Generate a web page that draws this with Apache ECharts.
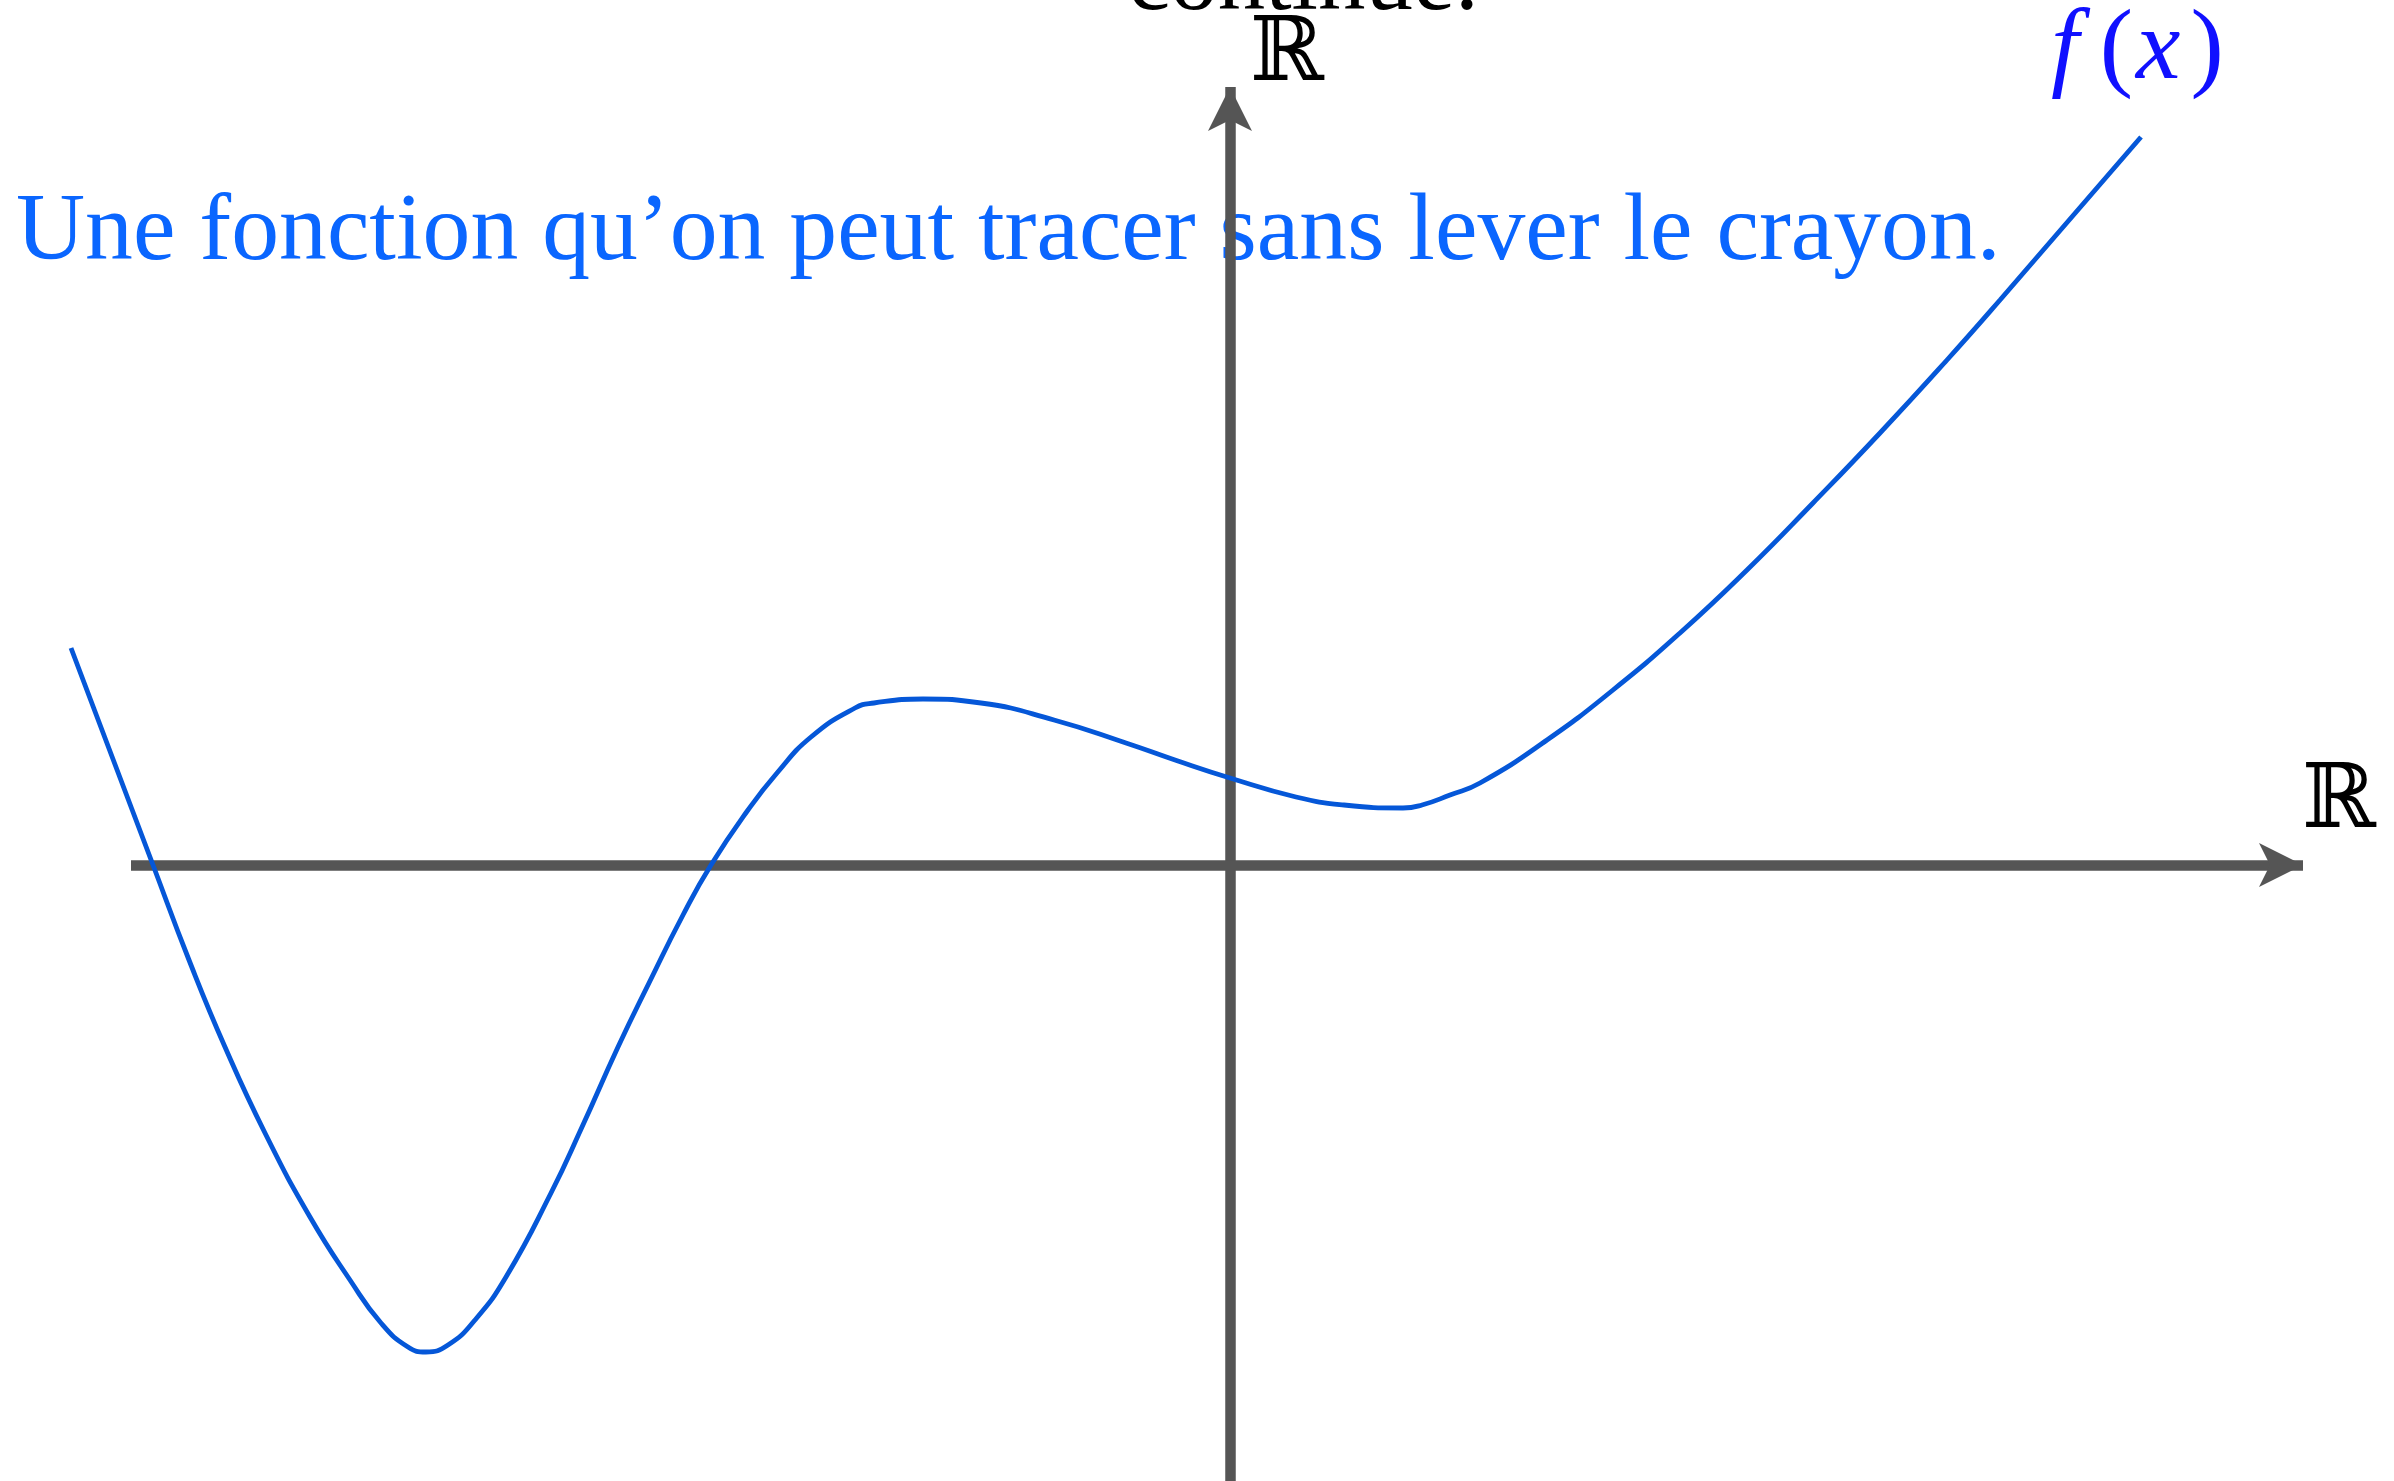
<!DOCTYPE html>
<html>
<head>
<meta charset="utf-8">
<title>Fonction continue</title>
<script src="https://cdn.jsdelivr.net/npm/echarts@6/dist/echarts.min.js"></script>
<style>
  html, body { margin: 0; padding: 0; background: #ffffff; }
  #chart { width: 2394px; height: 1481px; }
</style>
</head>
<body>
<div id="chart"></div>
<script>
// Sample points of the continuous function f (x, f(x))
const curveX = [-11.59, -10.77, -10.41, -10.05, -9.65, -9.20, -8.80, -8.49, -8.22, -8.04,
                -7.82, -7.55, -7.24, -6.79, -6.48, -6.12, -5.81, -5.47, -5.19, -4.82,
                -4.53, -4.19, -3.75, -3.56, -3.07, -2.49, -1.76, -1.04, -0.55, 0.00,
                0.66, 1.14, 1.73, 1.92, 2.20, 2.50, 3.17, 3.83, 4.50, 5.17,
                5.83, 6.50, 7.17, 7.70, 9.11];
const curveY = [2.17, 0.00, -0.95, -1.82, -2.68, -3.52, -4.15, -4.58, -4.82, -4.87,
                -4.80, -4.55, -4.12, -3.28, -2.62, -1.82, -1.18, -0.50, 0.00, 0.55,
                0.92, 1.28, 1.57, 1.62, 1.66, 1.62, 1.45, 1.22, 1.05, 0.87,
                0.68, 0.60, 0.57, 0.60, 0.70, 0.82, 1.25, 1.75, 2.32, 2.95,
                3.62, 4.32, 5.05, 5.65, 7.28];

// Window of the real plane: the drawn axes start at x = -10.99,
// the curve may begin a little further left
const axisXRange = [-10.99, 10.73];
const curveXRange = [-12.30, 10.73];
const yRange = [-6.16, 7.78];

// Texts
const titleTail = 'continue.';
const caption = 'Une fonction qu’on peut tracer sans lever le crayon.';
const axisName = 'ℝ';
const curveName = 'f(x)';

const curveData = curveX.map((x, i) => [x, curveY[i]]);

const axisColor = '#555555';
const visibleAxisLine = {
  show: true,
  onZero: true,
  symbol: ['none', 'arrow'],
  symbolSize: [33, 44],
  lineStyle: { color: axisColor, width: 10.5, cap: 'butt' }
};
const hidden = {
  axisLine: { show: false },
  axisTick: { show: false },
  axisLabel: { show: false },
  splitLine: { show: false }
};

const chart = echarts.init(document.getElementById('chart'), null, { renderer: 'canvas' });

chart.setOption({
  backgroundColor: '#ffffff',
  animation: false,
  grid: [
    { left: 131, right: 91, top: 87, bottom: 0, containLabel: false },
    { left: 0, right: 91, top: 87, bottom: 0, containLabel: false }
  ],
  xAxis: [
    Object.assign({ type: 'value', gridIndex: 0, min: axisXRange[0], max: axisXRange[1] }, hidden,
      { axisLine: visibleAxisLine }),
    Object.assign({ type: 'value', gridIndex: 1, min: curveXRange[0], max: curveXRange[1] }, hidden)
  ],
  yAxis: [
    Object.assign({ type: 'value', gridIndex: 0, min: yRange[0], max: yRange[1] }, hidden,
      { axisLine: visibleAxisLine }),
    Object.assign({ type: 'value', gridIndex: 1, min: yRange[0], max: yRange[1] }, hidden)
  ],
  series: [{
    name: curveName,
    type: 'line',
    xAxisIndex: 1,
    yAxisIndex: 1,
    data: curveData,
    clip: false,
    smooth: 0.5,
    showSymbol: false,
    symbol: 'none',
    lineStyle: { color: '#0557d8', width: 4.8 },
    z: 3
  }],
  graphic: [
    {
      type: 'text', x: 1128, y: -16,
      style: {
        text: titleTail, fill: '#000000',
        font: '95px "Liberation Serif", "DejaVu Serif", serif',
        align: 'left', verticalAlign: 'middle'
      }
    },
    {
      type: 'text', x: 16, y: 234,
      style: {
        text: caption, fill: '#0a66ff',
        font: '95.7px "Liberation Serif", "DejaVu Serif", serif',
        align: 'left', verticalAlign: 'middle'
      }
    },
    {
      type: 'text', x: 1250, y: 57,
      style: {
        text: axisName, fill: '#000000',
        font: '89px "DejaVu Serif", serif',
        align: 'left', verticalAlign: 'middle'
      }
    },
    {
      type: 'text', x: 2302, y: 804,
      style: {
        text: axisName, fill: '#000000',
        font: '89px "DejaVu Serif", serif',
        align: 'left', verticalAlign: 'middle'
      }
    },
    {
      type: 'text', x: 2051, y: 52,
      style: {
        text: '{i|f}{p|(}{j|x}{q|)}',
        fill: '#1010ff',
        align: 'left', verticalAlign: 'middle',
        rich: {
          i: { fontFamily: 'Liberation Serif', fontStyle: 'italic', fontSize: 100, lineHeight: 100, fill: '#1010ff', padding: [0, 21, 0, 0] },
          p: { fontFamily: 'Liberation Serif', fontSize: 100, lineHeight: 100, fill: '#1010ff', padding: [0, 3, 0, 0] },
          j: { fontFamily: 'Liberation Serif', fontStyle: 'italic', fontSize: 100, lineHeight: 100, fill: '#1010ff', padding: [0, 10, 0, 0] },
          q: { fontFamily: 'Liberation Serif', fontSize: 100, lineHeight: 100, fill: '#1010ff' }
        }
      }
    }
  ]
});
</script>
</body>
</html>
